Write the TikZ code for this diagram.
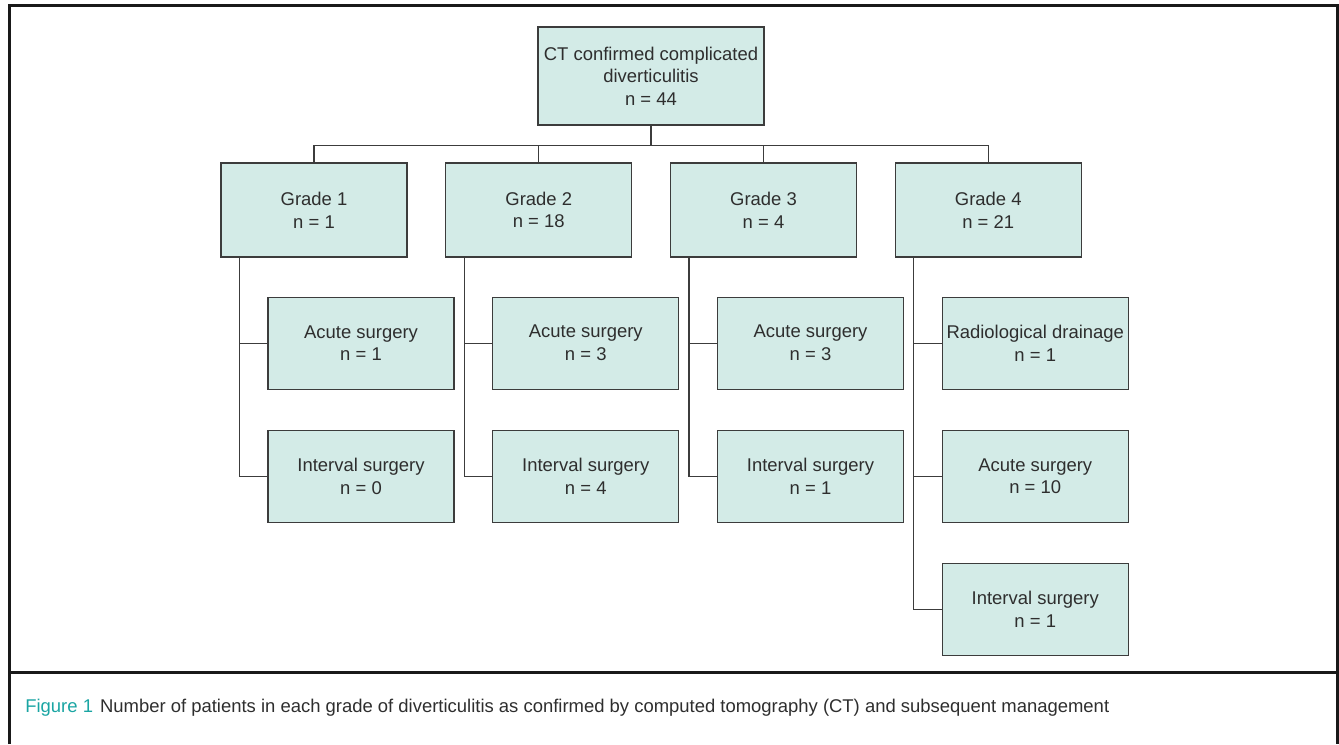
\documentclass[tikz,border=0pt]{standalone}
\usepackage{fontspec}
\setmainfont{Liberation Sans}
\usetikzlibrary{positioning}
\definecolor{boxfill}{HTML}{D3EBE7}
\definecolor{linegray}{HTML}{3C3C3C}
\definecolor{textgray}{HTML}{2E2E2E}
\definecolor{figteal}{HTML}{1AA5A3}

\begin{document}
\begin{tikzpicture}[
    box/.style={draw=linegray, fill=boxfill, line width=0.6pt, minimum width=3.72cm, minimum height=1.84cm,
        align=center, inner sep=2pt, text=textgray, font=\fontsize{10.5}{12.9}\selectfont},
    link/.style={draw=linegray, line width=0.6pt},
    frame/.style={draw=black!90, line width=1.2pt}
]
    \useasboundingbox (0,0) rectangle (26.78,-14.88);

    % Outer frame and caption rule
    \draw[frame] (0.19,-14.88) -- (0.19,-0.11) -- (26.75,-0.11) -- (26.75,-14.88);
    \draw[frame] (0.19,-13.45) -- (26.75,-13.45);

    % Root of the tree
    \node[box, minimum width=4.52cm, minimum height=1.96cm] (root) at (13.02,-1.52)
        {CT confirmed complicated\\diverticulitis\\n = 44};
    \draw[link] (root.south) -- ++(0,-0.4) coordinate (bus);

    % Grades 1 to 4 hanging from the bus
    \foreach \g/\n [count=\i from 0] in {1/1, 2/18, 3/4, 4/21} {
        \node[box, minimum height=1.88cm] (g\g) at (6.28+4.495*\i,-4.2) {Grade \g\\n = \n};
        \draw[link] (g\g.north) |- (bus);
    }

    % Grade 1 management
    \node[box, below right=0.78cm and 0.94cm of g1.south west] (acute1) {Acute surgery\\n = 1};
    \node[box, below=0.8cm of acute1] (interval1) {Interval surgery\\n = 0};
    \coordinate (t1) at ([xshift=0.38cm]g1.south west);
    \draw[link] (t1) |- (interval1.west);
    \draw[link] (t1 |- acute1.west) -- (acute1.west);

    % Grade 2 management
    \node[box, below right=0.78cm and 0.94cm of g2.south west] (acute2) {Acute surgery\\n = 3};
    \node[box, below=0.8cm of acute2] (interval2) {Interval surgery\\n = 4};
    \coordinate (t2) at ([xshift=0.38cm]g2.south west);
    \draw[link] (t2) |- (interval2.west);
    \draw[link] (t2 |- acute2.west) -- (acute2.west);

    % Grade 3 management
    \node[box, below right=0.78cm and 0.94cm of g3.south west] (acute3) {Acute surgery\\n = 3};
    \node[box, below=0.8cm of acute3] (interval3) {Interval surgery\\n = 1};
    \coordinate (t3) at ([xshift=0.38cm]g3.south west);
    \draw[link] (t3) |- (interval3.west);
    \draw[link] (t3 |- acute3.west) -- (acute3.west);

    % Grade 4 management
    \node[box, below right=0.78cm and 0.94cm of g4.south west] (drain4) {Radiological drainage\\n = 1};
    \node[box, below=0.8cm of drain4] (acute4) {Acute surgery\\n = 10};
    \node[box, below=0.8cm of acute4] (interval4) {Interval surgery\\n = 1};
    \coordinate (t4) at ([xshift=0.38cm]g4.south west);
    \draw[link] (t4) |- (interval4.west);
    \foreach \c in {drain4, acute4} \draw[link] (t4 |- \c.west) -- (\c.west);

    % Caption
    \node[anchor=west, inner sep=0pt, text=textgray, font=\fontsize{10.5}{12.9}\selectfont] (caption) at (0.5,-14.16)
        {\textcolor{figteal}{Figure 1}\hspace{4pt}Number of patients in each grade of diverticulitis as confirmed by computed tomography (CT) and subsequent management};

\end{tikzpicture}
\end{document}
